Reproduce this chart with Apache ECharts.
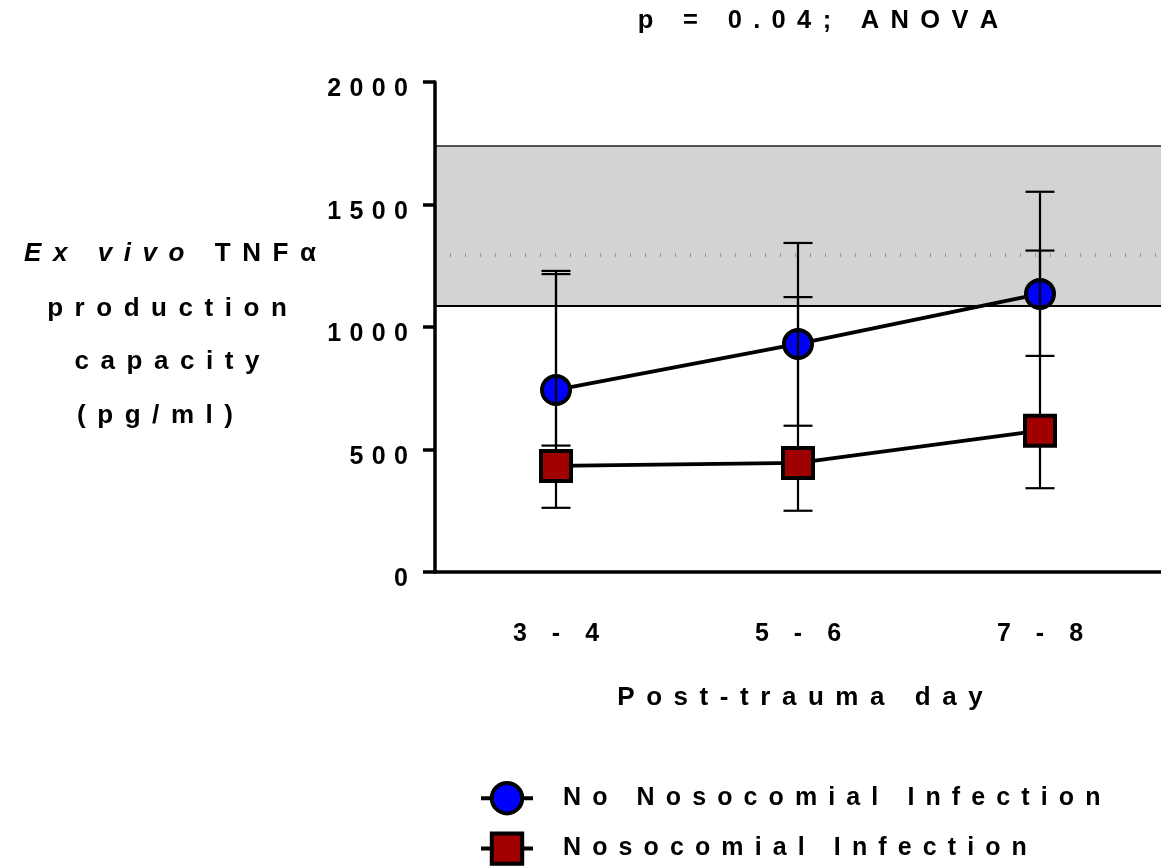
<!DOCTYPE html>
<html><head><meta charset="utf-8">
<script src="https://cdn.jsdelivr.net/npm/echarts@6/dist/echarts.min.js"></script>
<style>html,body{margin:0;padding:0;background:#fff}#c{width:1161px;height:866px}</style>
</head><body><div id="c"></div>
<script>
// ---- data ----
const categories = ['3 - 4', '5 - 6', '7 - 8'];
const seriesNames = ['No Nosocomial Infection', 'Nosocomial Infection'];
const noInfMean = [743, 931, 1135];
const noInfLow  = [516, 597, 882];
const noInfHigh = [1229, 1343, 1552];
const infMean = [433, 445, 577];
const infLow  = [262, 250, 342];
const infHigh = [1216, 1122, 1312];
const refBand = [1086, 1739];
const refMedian = 1296;
const titleText = 'p = 0.04; ANOVA';
const xTitle = 'Post-trauma day';
const yTitleLines = ['production', 'capacity', '(pg/ml)'];

// ---- helpers ----
const FONT = '"Liberation Sans", Arial, Helvetica, sans-serif';
const SEP = ' \u2006';
function sp(s, sep) { return s.split('').join(sep || SEP); }

function errSeries(low, high, z) {
  return {
    type: 'custom', z: z, silent: true,
    data: low.map((l, i) => [i, l, high[i]]),
    encode: { x: 0, y: [1, 2] },
    renderItem: function (params, api) {
      const a = api.coord([api.value(0), api.value(1)]);
      const b = api.coord([api.value(0), api.value(2)]);
      const w = 14.5;
      const st = { stroke: '#000', lineWidth: 2.2 };
      return { type: 'group', children: [
        { type: 'line', shape: { x1: a[0], y1: a[1], x2: b[0], y2: b[1] }, style: st },
        { type: 'line', shape: { x1: a[0] - w, y1: a[1], x2: a[0] + w, y2: a[1] }, style: st },
        { type: 'line', shape: { x1: b[0] - w, y1: b[1], x2: b[0] + w, y2: b[1] }, style: st }
      ]};
    }
  };
}

const T = (text, x, y, size) => ({ type: 'text', x: x, y: y, style: { text: text, font: 'bold ' + size + 'px ' + FONT, fill: '#000', align: 'center', verticalAlign: 'middle' } });

const chart = echarts.init(document.getElementById('c'));
const option = {
  animation: false,
  backgroundColor: '#fff',
  grid: { left: 435, right: -9, top: 82, bottom: 294, containLabel: false },
  xAxis: {
    type: 'category', data: categories, boundaryGap: true, z: 5,
    axisLine: { lineStyle: { color: '#000', width: 3.5 } },
    axisTick: { alignWithLabel: true, length: 16, lineStyle: { color: '#000', width: 3.5 } },
    axisLabel: { margin: 50, color: '#000', fontSize: 25, fontWeight: 'bold', fontFamily: FONT,
      formatter: v => v.split(' - ').join('\u2002\u2002-\u2002\u2002') },
    splitLine: { show: false }
  },
  yAxis: {
    type: 'value', min: 0, max: 2000, interval: 500, z: 5,
    axisLine: { show: true, lineStyle: { color: '#000', width: 3.5 } },
    axisTick: { show: true, length: 12, lineStyle: { color: '#000', width: 3.5 } },
    axisLabel: { margin: 27, color: '#000', fontSize: 25, fontWeight: 'bold', fontFamily: FONT,
      formatter: v => '{v|' + sp(String(v), '\u2004') + '}',
      rich: { v: { fontSize: 25, fontWeight: 'bold', fontFamily: FONT, color: '#000', padding: [15, 0, 0, 0] } } },
    splitLine: { show: false }
  },
  legend: {
    orient: 'vertical', left: 479, top: 781, height: 100, padding: 0,
    itemWidth: 52, itemHeight: 38, itemGap: 16,
    selectedMode: false,
    data: seriesNames.map(n => sp(n)),
    itemStyle: { borderWidth: 4, borderColor: '#000' },
    lineStyle: { width: 4, color: '#000' },
    textStyle: { fontSize: 25, fontWeight: 'bold', fontFamily: FONT, color: '#000', padding: [0, 0, 0, 25] }
  },
  graphic: [
    T(sp(titleText), 818, 21, 25.5),
    T(sp(xTitle), 800, 698, 26),
    { type: 'text', x: 170, y: 254, style: {
        text: '{i|' + sp('Ex vivo') + '}{b|' + SEP + ' ' + SEP + sp('TNFα') + '}',
        rich: { i: { font: 'italic bold 26px ' + FONT, fill: '#000' }, b: { font: 'bold 26px ' + FONT, fill: '#000' } },
        align: 'center', verticalAlign: 'middle' } },
    T(sp(yTitleLines[0]), 167, 309, 26),
    T(sp(yTitleLines[1]), 167, 362, 26),
    T(sp(yTitleLines[2]), 155, 416, 26)
  ],
  series: [
    {
      type: 'line', name: 'ref', z: 0, data: [null, null, null], silent: true,
      markArea: { silent: true, itemStyle: { color: '#d3d3d3' }, data: [[{ yAxis: refBand[0] }, { yAxis: refBand[1] }]] },
      markLine: { silent: true, symbol: 'none', label: { show: false }, data: [
        { yAxis: refBand[1], lineStyle: { color: '#222', width: 1.5, type: 'solid' } },
        { yAxis: refBand[0], lineStyle: { color: '#000', width: 2, type: 'solid' } },
        { yAxis: refMedian, lineStyle: { color: '#9a9a9a', width: 4, type: [1, 14] } }
      ] }
    },
    errSeries(noInfLow, noInfHigh, 1),
    {
      type: 'line', name: sp(seriesNames[0]), z: 2, data: noInfMean,
      symbol: 'circle', symbolSize: 28, showAllSymbol: true,
      lineStyle: { color: '#000', width: 3.8 },
      itemStyle: { color: '#0000ff', borderColor: '#000', borderWidth: 4 }
    },
    errSeries(infLow, infHigh, 3),
    {
      type: 'line', name: sp(seriesNames[1]), z: 4, data: infMean,
      symbol: 'rect', symbolSize: 30, showAllSymbol: true,
      lineStyle: { color: '#000', width: 3.8 },
      itemStyle: { color: '#a00000', borderColor: '#000', borderWidth: 4 }
    }
  ]
};
chart.setOption(option);
</script>
</body></html>
